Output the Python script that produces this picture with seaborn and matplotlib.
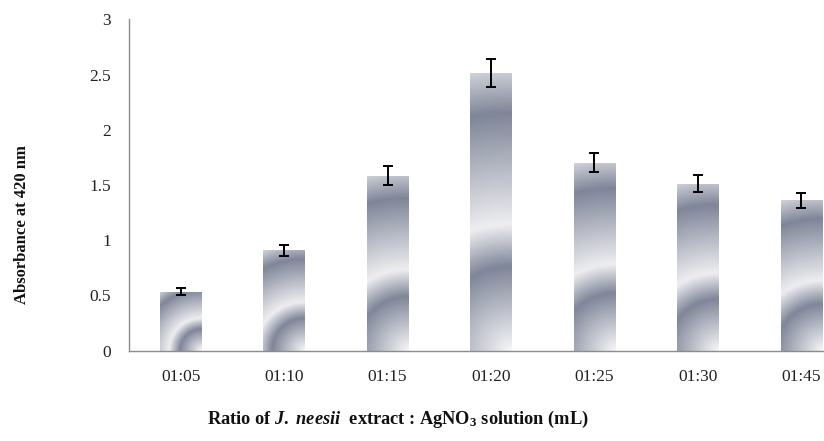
import numpy as np
import matplotlib
matplotlib.use("Agg")
import matplotlib.pyplot as plt
from matplotlib.colors import LinearSegmentedColormap
import seaborn as sns

# ---- data ----
categories = ["01:05", "01:10", "01:15", "01:20", "01:25", "01:30", "01:45"]
absorbance = [0.535, 0.91, 1.585, 2.515, 1.70, 1.513, 1.362]
errors = [0.03, 0.05, 0.086, 0.125, 0.086, 0.08, 0.07]
ytick_vals = [0, 0.5, 1, 1.5, 2, 2.5, 3]
ytick_labels = ["0", "0.5", "1", "1.5", "2", "2.5", "3"]

sns.set_style("white")
plt.rcParams["font.family"] = ["Liberation Serif", "DejaVu Serif"]
plt.rcParams["mathtext.fontset"] = "custom"
plt.rcParams["mathtext.rm"] = "Liberation Serif:bold"
plt.rcParams["mathtext.it"] = "Liberation Serif:bold:italic"
plt.rcParams["mathtext.bf"] = "Liberation Serif:bold"

W, H = 824, 441
fig = plt.figure(figsize=(W / 100, H / 100), dpi=100)
ax = fig.add_axes([129 / W, 1 - 350.7 / H, 724 / W, 331.4 / H])

sns.barplot(x=categories, y=absorbance, color="white", width=0.4,
            errorbar=None, ax=ax, saturation=1, edgecolor="none", zorder=1)

ax.set_xlim(-0.5, 6.5)
ax.set_ylim(0, 3)

# gradient fill (radial from bottom-right corner) for each bar
cmap = LinearSegmentedColormap.from_list(
    "excel_silver",
    [(0.0, "#f6f6f8"), (0.30, "#7f8699"), (0.45, "#eeeef1"),
     (0.85, "#7f8699"), (1.0, "#cdd0d7")])
fig.canvas.draw()
for patch in ax.patches:
    x0 = patch.get_x()
    w = patch.get_width()
    h = patch.get_height()
    (px0, py0) = ax.transData.transform((x0, 0))
    (px1, py1) = ax.transData.transform((x0 + w, h))
    pw, ph = abs(px1 - px0), abs(py1 - py0)
    nx, ny = max(int(pw), 2), max(int(ph), 2)
    xs = np.linspace(pw, 0, nx)          # distance from right edge
    ys = np.linspace(0, ph, ny)          # distance from bottom
    dx, dy = np.meshgrid(xs, ys)
    t = np.sqrt(dx ** 2 + dy ** 2) / np.sqrt(pw ** 2 + ph ** 2)
    im = ax.imshow(t, cmap=cmap, vmin=0, vmax=1, origin="lower",
                   extent=(x0, x0 + w, 0, h), aspect="auto",
                   interpolation="bilinear", zorder=2)
    im.set_clip_path(patch)

ax.set_xlim(-0.5, 6.5)
ax.set_ylim(0, 3)

ax.errorbar(range(len(categories)), absorbance, yerr=errors, fmt="none",
            ecolor="black", elinewidth=1.4, capsize=3.3, capthick=1.4,
            zorder=3)

# axes styling
for s in ["top", "right"]:
    ax.spines[s].set_visible(False)
for s in ["left", "bottom"]:
    ax.spines[s].set_color("#8c8c8c")
    ax.spines[s].set_linewidth(1.0)
    ax.spines[s].set_zorder(4)

ax.set_yticks(ytick_vals)
ax.set_yticklabels(ytick_labels)
ax.tick_params(axis="y", direction="out", length=4, width=1, color="#8c8c8c",
               labelsize=12.5, labelcolor="#222222", pad=9)
ax.set_xticks(range(len(categories)))
ax.set_xticklabels(categories)
ax.set_xticks(np.arange(-0.5, 7.0, 1.0), minor=True)
ax.tick_params(axis="x", which="major", length=0, labelsize=12.5,
               labelcolor="#222222", pad=13)
ax.tick_params(axis="x", which="minor", direction="out", length=5, width=1,
               color="#8c8c8c")
ax.set_xlabel("")
ax.set_ylabel("")

fig.text(22 / W, 1 - 225 / H, "Absorbance at 420 nm", rotation=90,
         ha="center", va="center", fontsize=12, fontweight="bold",
         color="#111111")
fig.text(398 / W, 1 - 419 / H,
         r"Ratio of $\mathit{J.\ neesii}$  extract : AgNO$_3$ solution (mL)",
         ha="center", va="center", fontsize=13.2, fontweight="bold",
         color="#111111")

fig.savefig("out.png", dpi=100)
